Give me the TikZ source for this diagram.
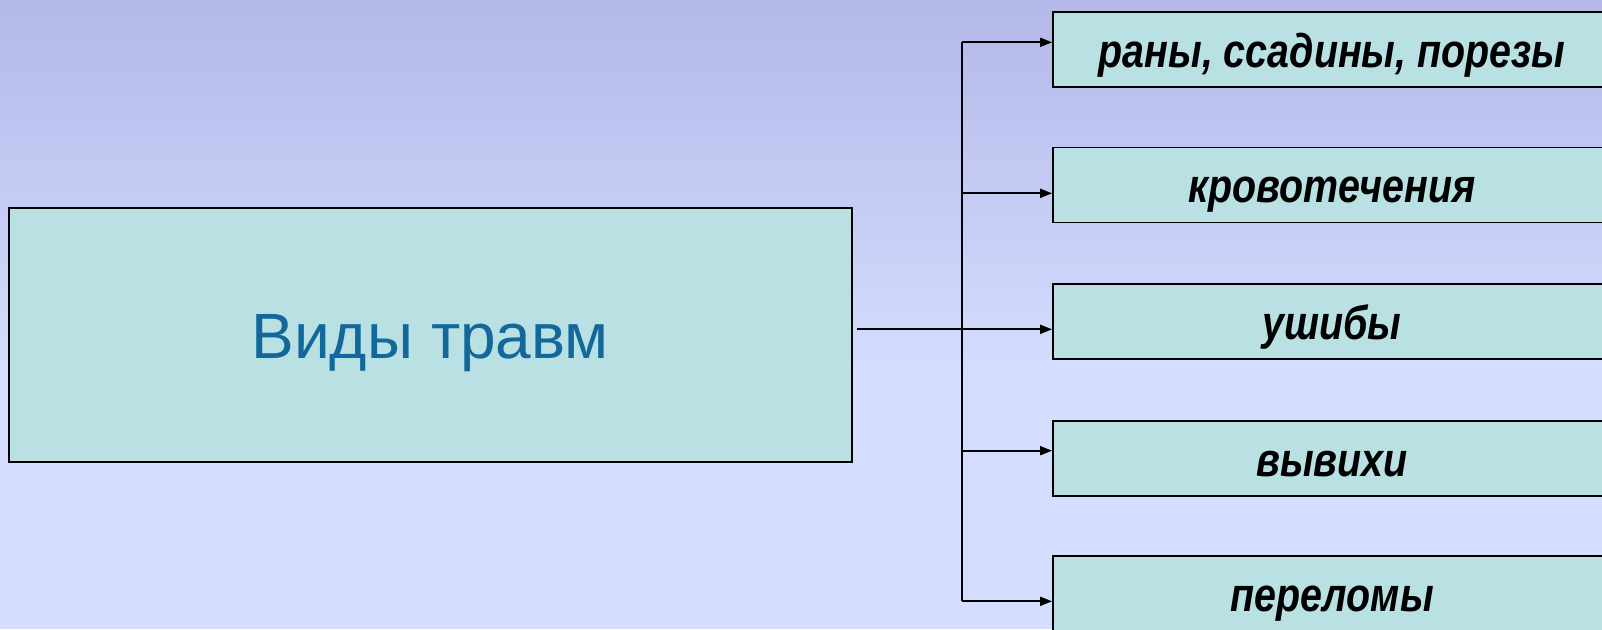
\documentclass[tikz,border=0pt]{standalone}
\usepackage{fontspec}
\setmainfont{Liberation Sans}
\newfontfamily\itemfont[FakeStretch=0.83]{Liberation Sans}
\usetikzlibrary{arrows.meta}
\definecolor{bgtop}{RGB}{179,184,232}
\definecolor{bgbot}{RGB}{213,222,255}
\definecolor{boxfill}{RGB}{185,224,227}
\definecolor{titleblue}{RGB}{18,104,154}
\tikzset{
  itembox/.style={draw=black, line width=1.8pt, fill=boxfill, minimum width=558pt,
    minimum height=75pt, inner sep=0pt, text height=38pt, text depth=3pt,
    font=\itemfont\bfseries\itshape\fontsize{47.5}{55}\selectfont},
  mainbox/.style={draw=black, line width=1.8pt, fill=boxfill, minimum width=843pt,
    minimum height=254pt, inner sep=0pt, text height=48pt, text depth=1.5pt,
    text=titleblue, font=\fontsize{64}{70}\selectfont},
  conn/.style={line width=1.8pt, draw=black},
  arr/.style={conn, -{Triangle[length=12pt,width=9pt]}}
}
\begin{document}
\begin{tikzpicture}[x=1pt,y=-1pt]
\useasboundingbox (0,0) rectangle (1602,629);
\clip (0,0) rectangle (1602,629);
\shade[top color=bgtop, bottom color=bgbot] (0,0) rectangle (1602,380);
\fill[bgbot] (0,379) rectangle (1602,629);

\node[mainbox] (main) at (430.2,334.9) {Виды травм};

\node[itembox] (b1) at (1332,49.7) {раны, ссадины, порезы};
\node[itembox] (b2) at (1332,185.0) {кровотечения};
\node[itembox] (b3) at (1332,321.7) {ушибы};
\node[itembox] (b4) at (1332,458.8) {вывихи};
\node[itembox] (b5) at (1332,593.7) {переломы};

\coordinate (m) at (856.7,329.3);
\coordinate (a1) at (962.3,42.3);
\coordinate (a2) at (962.3,193.3);
\coordinate (a3) at (962.3,329.3);
\coordinate (a4) at (962.3,450.7);
\coordinate (a5) at (962.3,601.3);

\draw[conn] (a1) -- (a5);
\draw[arr] (m) -- (m -| b3.west);
\draw[arr] (a1) -- (a1 -| b1.west);
\draw[arr] (a2) -- (a2 -| b2.west);
\draw[arr] (a4) -- (a4 -| b4.west);
\draw[arr] (a5) -- (a5 -| b5.west);
\end{tikzpicture}
\end{document}
